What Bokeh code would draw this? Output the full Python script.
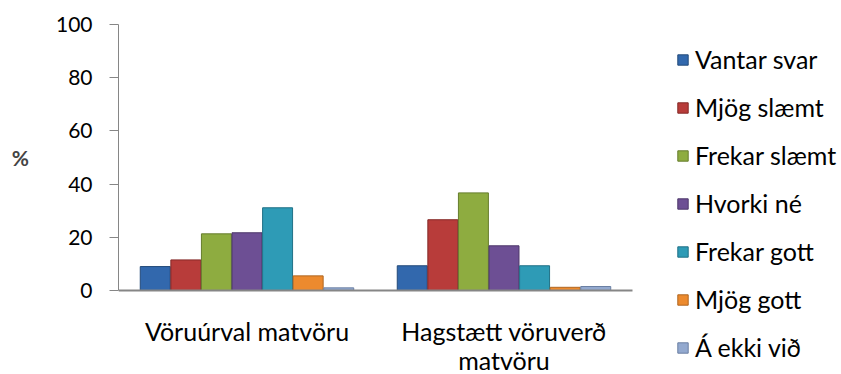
from bokeh.plotting import figure
from bokeh.models import Range1d, Legend, LegendItem, FixedTicker, LinearAxis
from bokeh.embed import file_html
from bokeh.resources import INLINE

categories = ["Vöruúrval matvöru", "Hagstætt vöruverð matvöru"]
label_line1 = ["Vöruúrval matvöru", "Hagstætt vöruverð"]
label_line2 = ["", "matvöru"]
series = ["Vantar svar", "Mjög slæmt", "Frekar slæmt", "Hvorki né", "Frekar gott", "Mjög gott", "Á ekki við"]
vantar_svar = [9.0, 9.3]
mjog_slaemt = [11.5, 26.6]
frekar_slaemt = [21.3, 36.7]
hvorki_ne = [21.7, 16.8]
frekar_gott = [31.1, 9.3]
mjog_gott = [5.5, 1.2]
a_ekki_vid = [1.0, 1.5]
y_ticks = [0, 20, 40, 60, 80, 100]

values = [vantar_svar, mjog_slaemt, frekar_slaemt, hvorki_ne, frekar_gott, mjog_gott, a_ekki_vid]
colors = ["#3268ad", "#b83c3a", "#8eac40", "#6d4f94", "#2e9bb6", "#ec8a2e", "#93a9cf"]
edges = ["#234a7a", "#842826", "#667d2c", "#4d376a", "#1f7086", "#b0651f", "#6a7fa3"]

FONT = "Lato"
n_cat = len(categories)
centers = [j + 0.5 for j in range(n_cat)]

# layout (pixels): frame spans the whole canvas right of the y axis; the value
# axis 0..100 occupies 266 px starting 24 px from the top, categories 257 px each
W, H, LEFT = 841, 374, 118
TOP_PAD, AX_H, CAT_W = 24, 266, 257
ppu = AX_H / 100.0
y_lo = -(H - TOP_PAD - AX_H) / ppu
y_hi = 100 + TOP_PAD / ppu
x_hi = (W - LEFT) / CAT_W

p = figure(width=W, height=H, output_backend="svg", toolbar_location=None,
           x_range=Range1d(0, x_hi), y_range=Range1d(y_lo, y_hi))
p.min_border_left = LEFT
p.min_border_right = 0
p.min_border_top = 0
p.min_border_bottom = 0
p.outline_line_color = None
p.xgrid.grid_line_color = None
p.ygrid.grid_line_color = None

bw = 0.119
items = []
for i, v in enumerate(values):
    xs = [c + (i - 3) * bw for c in centers]
    r = p.vbar(x=xs, top=v, width=bw * 0.98, fill_color=colors[i], line_color=edges[i], line_width=1)
    items.append(LegendItem(label=series[i], renderers=[r]))

p.yaxis.bounds = (0, 100)
p.yaxis.ticker = FixedTicker(ticks=y_ticks)
p.yaxis.axis_line_color = "#868686"
p.yaxis.major_tick_line_color = "#868686"
p.yaxis.major_tick_out = 9
p.yaxis.major_tick_in = 0
p.yaxis.minor_tick_line_color = None
p.yaxis.major_label_standoff = 17
p.yaxis.major_label_text_font = FONT
p.yaxis.major_label_text_font_size = "21px"
p.yaxis.major_label_text_color = "#000000"
# the label is centred on the full-height frame; two blank lines lift "%" to mid-axis
p.yaxis.axis_label = "%\n \n "
p.yaxis.axis_label_orientation = "horizontal"
p.yaxis.axis_label_text_font = FONT
p.yaxis.axis_label_text_font_size = "21px"
p.yaxis.axis_label_text_font_style = "bold"
p.yaxis.axis_label_standoff = 24

p.xaxis.fixed_location = 0
p.xaxis.bounds = (0, n_cat)
p.xaxis.ticker = FixedTicker(ticks=centers)
p.xaxis.axis_line_color = "#868686"
p.xaxis.axis_line_width = 2
p.xaxis.major_tick_line_color = None
p.xaxis.minor_tick_line_color = None
p.xaxis.major_label_standoff = 19
p.xaxis.major_label_text_font = FONT
p.xaxis.major_label_text_font_size = "25px"
p.xaxis.major_label_text_color = "#000000"
p.xaxis.major_label_overrides = {c: t for c, t in zip(centers, label_line1)}

x2 = LinearAxis(ticker=FixedTicker(ticks=centers), fixed_location=0, bounds=(0, n_cat),
                axis_line_color=None, major_tick_line_color=None, minor_tick_line_color=None,
                major_label_standoff=48, major_label_text_font=FONT,
                major_label_text_font_size="25px", major_label_text_color="#000000",
                major_label_overrides={c: (t if t else " ") for c, t in zip(centers, label_line2)})
p.add_layout(x2, "below")

legend = Legend(items=items, location=(558, 12), orientation="vertical",
                label_text_font=FONT, label_text_font_size="25px", label_text_color="#000000",
                glyph_width=13, glyph_height=13, label_standoff=6, spacing=18,
                border_line_color=None, background_fill_alpha=0, padding=0, margin=0)
p.add_layout(legend, "center")

open("out.html", "w").write(file_html(p, INLINE))
